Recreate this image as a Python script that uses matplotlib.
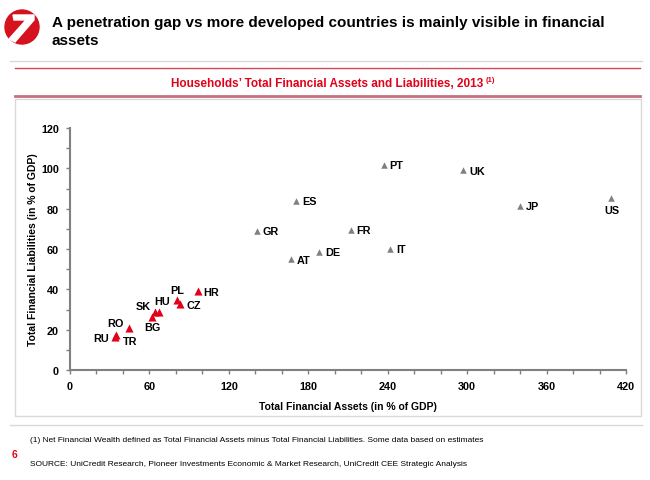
import matplotlib
matplotlib.use('Agg')
import matplotlib.pyplot as plt
from matplotlib.patches import Circle, Rectangle, Polygon
import numpy as np

plt.rcParams['font.family'] = ['Liberation Sans', 'DejaVu Sans']

# developed countries (grey)
dev_names = ['PT', 'UK', 'ES', 'JP', 'US', 'GR', 'FR', 'DE', 'AT', 'IT']
dev_assets = [237, 297, 171, 340, 409, 141, 212, 188, 167, 242]
dev_liabs = [101.6, 99.3, 83.6, 81.2, 85.1, 69.1, 69.4, 58.7, 55.0, 60.0]

# CEE countries (red)
cee_names = ['HR', 'PL', 'CZ', 'HU', 'SK', 'BG', 'RO', 'TR', 'RU']
cee_assets = [96.4, 81.1, 83.1, 67.2, 64.2, 61.9, 44.6, 34.5, 34.0]
cee_liabs = [39.0, 34.7, 32.7, 28.6, 28.9, 26.1, 20.7, 17.6, 16.3]

# label offsets in pixels (dx, dy, ha)
label_pos = {
    'PT': (6, 0, 'left'), 'UK': (6, -1, 'left'), 'ES': (6, 0, 'left'),
    'JP': (6, 0, 'left'), 'US': (0, -12, 'center'), 'GR': (6, 0, 'left'),
    'FR': (6, 0, 'left'), 'DE': (6, 0, 'left'), 'AT': (6, -1, 'left'),
    'IT': (6, 0, 'left'),
    'HR': (6, -1, 'left'), 'PL': (0, 10, 'center'), 'CZ': (6, -1, 'left'),
    'HU': (3, 11, 'center'), 'SK': (-12, 6, 'center'), 'BG': (0, -10, 'center'),
    'RO': (-14, 5, 'center'), 'TR': (14, -6, 'center'), 'RU': (-14, -1, 'center'),
}

RED = '#e2001a'
GREY = '#808080'

fig = plt.figure(figsize=(6.5, 4.81), dpi=100)

# page decorations in pixel coordinates
bg = fig.add_axes([0, 0, 1, 1])
bg.set_xlim(0, 650)
bg.set_ylim(481, 0)
bg.axis('off')

bg.add_patch(Circle((22, 28), 17, color='#d5121e'))
bg.add_patch(Polygon([(13, 16), (34, 16), (34, 21), (15, 43), (9, 40), (26, 21), (14, 21)],
                     closed=True, color='white'))
bg.text(52, 32, 'A penetration gap vs more developed countries is mainly visible in financial\nassets',
        fontsize=11, fontweight='bold', va='center', ha='left', linespacing=1.3)
bg.plot([10, 642], [62, 62], color='#d9d9d9', lw=1)
bg.plot([15, 640], [69, 69], color='#d4485a', lw=1)
bg.text(483, 84, u'Households\u2019 Total Financial Assets and Liabilities, 2013',
        fontsize=8.5, fontweight='bold', color=RED, ha='right', va='center')
bg.text(486, 80, '(1)', fontsize=5.5, fontweight='bold', color=RED, ha='left', va='center')
bg.plot([15, 640], [97, 97], color='#c8707c', lw=2)
bg.add_patch(Rectangle((15, 100), 626, 317, fill=False, edgecolor='#d9d9d9', lw=1))
bg.plot([10, 642], [426, 426], color='#d9d9d9', lw=1)
bg.text(30, 441, '(1) Net Financial Wealth defined as Total Financial Assets minus Total Financial Liabilities. Some data based on estimates',
        fontsize=6, va='center', ha='left')
bg.text(15, 455, '6', fontsize=7.5, fontweight='bold', color=RED, va='center', ha='center')
bg.text(30, 465, 'SOURCE: UniCredit Research, Pioneer Investments Economic & Market Research, UniCredit CEE Strategic Analysis',
        fontsize=6, va='center', ha='left')

ax = fig.add_axes([70 / 650, 1 - 371 / 481, 556 / 650, 242 / 481])
ax.scatter(dev_assets, dev_liabs, marker='^', s=22, color=GREY, zorder=3, linewidths=0)
ax.scatter(cee_assets, cee_liabs, marker='^', s=34, color=RED, zorder=3, linewidths=0)

for n, x, y in zip(dev_names + cee_names, dev_assets + cee_assets, dev_liabs + cee_liabs):
    dx, dy, ha = label_pos[n]
    ax.annotate(n, (x, y), xytext=(dx, dy), textcoords='offset pixels',
                ha=ha, va='center', fontsize=7.8, fontweight='bold')

ax.set_xlim(0, 420)
ax.set_ylim(0, 120)
ax.set_xticks(np.arange(0, 421, 60))
ax.set_xticks(np.arange(0, 421, 20), minor=True)
ax.set_yticks(np.arange(0, 121, 20))
ax.set_yticks(np.arange(0, 121, 10), minor=True)
for s in ['top', 'right']:
    ax.spines[s].set_visible(False)
for s in ['left', 'bottom']:
    ax.spines[s].set_color(GREY)
    ax.spines[s].set_linewidth(1.5)
ax.tick_params(which='both', direction='out', color=GREY, width=1, length=3,
               labelsize=7.8, pad=5)
for lab in ax.get_xticklabels() + ax.get_yticklabels():
    lab.set_fontweight('bold')
ax.set_xlabel('Total Financial Assets (in % of GDP)', fontsize=7.5, fontweight='bold', labelpad=7)
ax.set_ylabel('Total Financial Liabilities (in % of GDP)', fontsize=7.5, fontweight='bold')
ax.yaxis.set_label_coords(-32 / 556, 0.5)

fig.savefig('out.png', dpi=100)
